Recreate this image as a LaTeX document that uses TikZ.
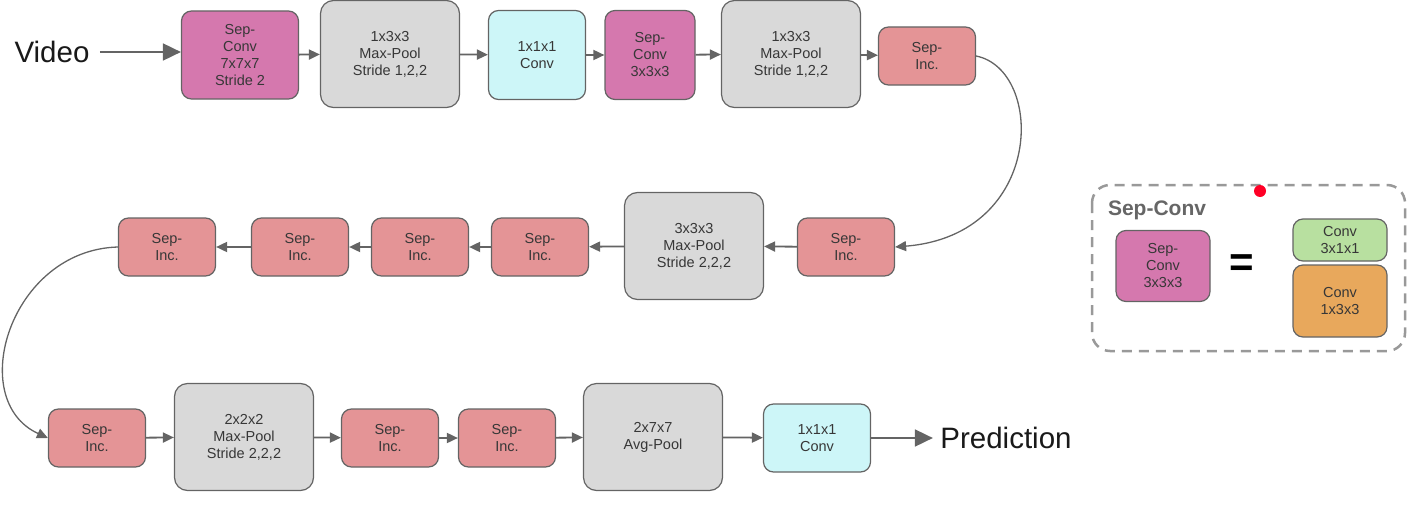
\documentclass[tikz,border=0pt]{standalone}
\usepackage{fontspec}
\setmainfont{Liberation Sans}
\usetikzlibrary{arrows.meta}
\definecolor{sepconvc}{RGB}{213,120,174}
\definecolor{poolc}{RGB}{217,217,217}
\definecolor{onec}{RGB}{205,246,248}
\definecolor{sepincc}{RGB}{228,148,150}
\definecolor{tconvc}{RGB}{184,224,160}
\definecolor{sconvc}{RGB}{232,168,92}
\definecolor{edgec}{RGB}{100,100,100}
\definecolor{txtc}{RGB}{55,55,55}
\tikzset{
  blk/.style={draw=edgec, line width=1.2pt, rounded corners=10pt, align=center,
    text=txtc, inner sep=0pt, font=\fontsize{14.5}{17}\selectfont},
  sepconv/.style={blk, fill=sepconvc},
  pool/.style={blk, fill=poolc, minimum width=139pt, minimum height=107pt, rounded corners=13pt},
  onebyone/.style={blk, fill=onec},
  sepinc/.style={blk, fill=sepincc, minimum width=97pt, minimum height=58pt},
  flow/.style={draw=edgec, line width=1.8pt, -{Triangle[length=11pt,width=10pt]}},
  bigflow/.style={draw=edgec, line width=1.8pt, -{Triangle[length=18pt,width=17pt]}},
  bigtext/.style={font=\fontsize{29.5}{32}\selectfont, text=black!90}
}
\begin{document}
\begin{tikzpicture}[x=1pt, y=-1pt]
  \useasboundingbox (0,0) rectangle (1415,511);

  \node[bigtext] (video) at (52,52) {Video};
  \node[sepconv, minimum width=117pt, minimum height=88pt] (a1) at (240,55) {Sep-\\Conv\\7x7x7\\Stride 2};
  \node[pool] (a2) at (390,54) {1x3x3\\Max-Pool\\Stride 1,2,2};
  \node[onebyone, minimum width=97pt, minimum height=89pt] (a3) at (537,55) {1x1x1\\Conv};
  \node[sepconv, minimum width=90pt, minimum height=89pt] (a4) at (650,55) {Sep-\\Conv\\3x3x3};
  \node[pool] (a5) at (791,54) {1x3x3\\Max-Pool\\Stride 1,2,2};
  \node[sepinc] (a6) at (927,56) {Sep-\\Inc.};

  \node[sepinc] (b1) at (846,247) {Sep-\\Inc.};
  \node[pool] (b2) at (694,246) {3x3x3\\Max-Pool\\Stride 2,2,2};
  \node[sepinc] (b3) at (540,247) {Sep-\\Inc.};
  \node[sepinc] (b4) at (420,247) {Sep-\\Inc.};
  \node[sepinc] (b5) at (300,247) {Sep-\\Inc.};
  \node[sepinc] (b6) at (167,247) {Sep-\\Inc.};

  \node[sepinc] (c1) at (97,438) {Sep-\\Inc.};
  \node[pool] (c2) at (244,437) {2x2x2\\Max-Pool\\Stride 2,2,2};
  \node[sepinc] (c3) at (390,438) {Sep-\\Inc.};
  \node[sepinc] (c4) at (507,438) {Sep-\\Inc.};
  \node[pool] (c5) at (653,437) {2x7x7\\Avg-Pool};
  \node[onebyone, minimum width=107pt, minimum height=68pt] (c6) at (817,438) {1x1x1\\Conv};
  \node[bigtext] (pred) at (1006,438) {Prediction};

  \draw[bigflow, shorten <=7pt] (video.east) -- (a1.west |- video.east);
  \draw[flow] (a1) -- (a2);
  \draw[flow] (a2) -- (a3);
  \draw[flow] (a3) -- (a4);
  \draw[flow] (a4) -- (a5);
  \draw[flow] (a5) -- (a6);
  \draw[flow, line width=1.3pt] (a6.east) .. controls (1045,70) and (1045,235) .. (b1.east);
  \draw[flow] (b1) -- (b2);
  \draw[flow] (b2) -- (b3);
  \draw[flow] (b3) -- (b4);
  \draw[flow] (b4) -- (b5);
  \draw[flow] (b5) -- (b6);
  \draw[flow, line width=1.3pt] (b6.west) .. controls (10,250) and (-35,400) .. (c1.west);
  \draw[flow] (c1) -- (c2);
  \draw[flow] (c2) -- (c3);
  \draw[flow] (c3) -- (c4);
  \draw[flow] (c4) -- (c5);
  \draw[flow] (c5) -- (c6);
  \draw[bigflow, shorten >=4pt] (c6) -- (pred);

  \draw[draw=black!40, line width=2.5pt, dash pattern=on 10pt off 7pt, rounded corners=18pt]
    (1092,185) rectangle (1405,351);
  \fill[red!85!magenta] (1260,191) circle[radius=6pt];
  \node[font=\bfseries\fontsize{21}{24}\selectfont, text=black!60] (title) at (1157,210) {Sep-Conv};
  \node[sepconv, minimum width=94pt, minimum height=71pt] (sc) at (1163,266) {Sep-\\Conv\\3x3x3};
  \node[font=\bfseries\fontsize{42}{44}\selectfont] (eq) at (1242,266) {=};
  \node[blk, fill=tconvc, minimum width=94pt, minimum height=42pt] (tc) at (1340,240) {Conv\\3x1x1};
  \node[blk, fill=sconvc, minimum width=94pt, minimum height=72pt] (spc) at (1340,301) {Conv\\1x3x3};
\end{tikzpicture}
\end{document}
